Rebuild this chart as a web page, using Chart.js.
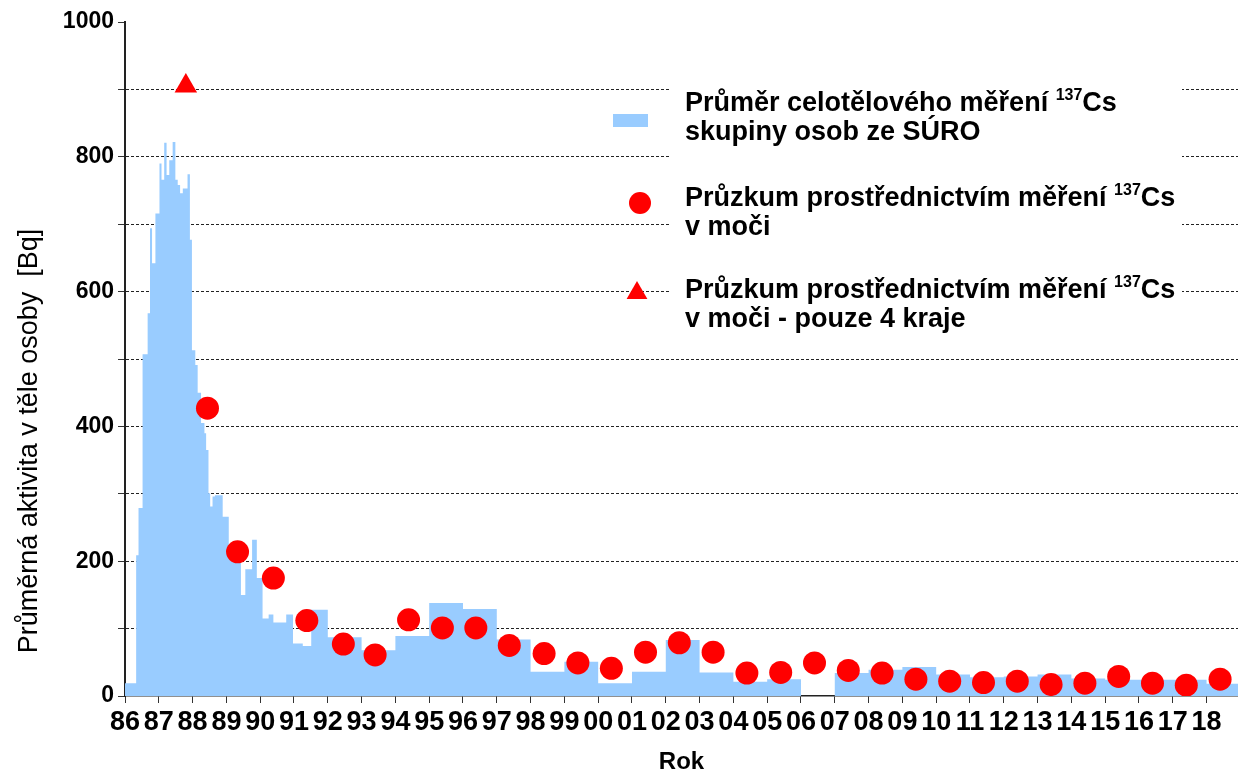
<!DOCTYPE html>
<html lang="cs">
<head>
  <meta charset="UTF-8" />
  <title>Průměrná aktivita 137Cs v těle osoby</title>
  <style>
    html, body { margin: 0; padding: 0; background: #fff; }
    #wrap { width: 1238px; height: 774px; }
  </style>
</head>
<body>
  <div id="wrap"><canvas id="chart" width="1238" height="774"></canvas></div>

  <script src="https://cdn.jsdelivr.net/npm/chart.js@4.4.0/dist/chart.umd.min.js"></script>
  <script>
    // osa x - roky
    const tickYears = [1986, 1987, 1988, 1989, 1990, 1991, 1992, 1993, 1994, 1995, 1996,
      1997, 1998, 1999, 2000, 2001, 2002, 2003, 2004, 2005, 2006, 2007, 2008, 2009, 2010,
      2011, 2012, 2013, 2014, 2015, 2016, 2017, 2018];
    const tickLabels = ['86', '87', '88', '89', '90', '91', '92', '93', '94', '95', '96',
      '97', '98', '99', '00', '01', '02', '03', '04', '05', '06', '07', '08', '09', '10',
      '11', '12', '13', '14', '15', '16', '17', '18'];

    // celotělové měření SÚRO (začátek intervalu, hodnota v Bq)
    const wbYears = [1986.00, 1986.33, 1986.40, 1986.52, 1986.67, 1986.74, 1986.80, 1986.90,
      1987.02, 1987.08, 1987.16, 1987.23, 1987.31, 1987.41, 1987.49, 1987.56, 1987.63, 1987.71,
      1987.85, 1987.92, 1987.98, 1988.08, 1988.15, 1988.25, 1988.35, 1988.40, 1988.47, 1988.52,
      1988.59, 1988.66, 1988.89, 1989.07, 1989.43, 1989.56, 1989.76, 1989.90, 1990.07, 1990.25,
      1990.39, 1990.77, 1990.97, 1991.26, 1991.51,
      1992, 1993, 1994, 1995, 1996, 1997, 1998, 1999, 2000, 2001, 2002, 2003, 2004, 2005,
      2006, 2007, 2008, 2009, 2010, 2011, 2012, 2013, 2014, 2015, 2016, 2017, 2018, 2018.93];
    const wbValues = [19, 209, 279, 507, 568, 694, 642, 716,
      790, 766, 821, 773, 795, 822, 766, 758, 746, 753,
      774, 677, 513, 491, 450, 405, 390, 365, 301, 281,
      296, 298, 266, 205, 150, 188, 232, 175, 115, 121,
      109, 121, 78, 74, 128,
      87, 68, 89, 138, 129, 84, 36, 51, 19, 36, 83, 35, 21, 25,
      0, 34, 39, 43, 32, 28, 29, 32, 26, 24, 24, 24, 18, 18];

    // průzkum - 137Cs v moči
    const urineYears = [1988.44, 1989.33, 1990.39, 1991.38, 1992.46, 1993.40, 1994.39, 1995.39,
      1996.38, 1997.37, 1998.40, 1999.40, 2000.39, 2001.40, 2002.40, 2003.40, 2004.40, 2005.40,
      2006.40, 2007.40, 2008.40, 2009.40, 2010.40, 2011.40, 2012.40, 2013.40, 2014.40, 2015.40,
      2016.40, 2017.40, 2018.40];
    const urineValues = [427, 214, 175, 112, 77, 61, 113, 101,
      101, 75, 63, 49, 41, 65, 79, 65, 34, 35,
      49, 38, 34, 25, 22, 20, 22, 17, 19, 29,
      19, 16, 25];

    // průzkum - jen 4 kraje
    const regionYears = [1987.80];
    const regionValues = [905];

    const legendLines = [
      ['Průměr celotělového měření ', '137', 'Cs'],
      ['skupiny osob ze SÚRO'],
      ['Průzkum prostřednictvím měření ', '137', 'Cs'],
      ['v moči'],
      ['Průzkum prostřednictvím měření ', '137', 'Cs'],
      ['v moči - pouze 4 kraje']
    ];
    const yTitle = 'Průměrná aktivita v těle osoby  [Bq]';

    const BLUE = '#99CCFF';
    const RED = '#FF0000';
    const FONT = '"Liberation Sans", Arial, sans-serif';

    const toPoints = (xs, ys) => xs.map((x, i) => ({ x: x, y: ys[i] }));

    // legenda uvnitř grafu (jako v Excelu)
    const boxLegend = {
      id: 'boxLegend',
      afterDatasetsDraw(chart) {
        const ctx = chart.ctx;
        ctx.save();
        ctx.fillStyle = '#fff';
        ctx.fillRect(670, 80, 512, 266);

        // značky
        ctx.fillStyle = BLUE;
        ctx.fillRect(613, 114, 35, 13);
        ctx.fillStyle = RED;
        ctx.beginPath();
        ctx.arc(640, 203, 11, 0, Math.PI * 2);
        ctx.fill();
        const r = 12, cx = 637, cy = 293;
        ctx.beginPath();
        ctx.moveTo(cx, cy - r);
        ctx.lineTo(cx + r * Math.sin(2 * Math.PI / 3), cy + r / 2);
        ctx.lineTo(cx - r * Math.sin(2 * Math.PI / 3), cy + r / 2);
        ctx.closePath();
        ctx.fill();

        // texty
        const rows = [104, 133, 199, 228, 291, 320];
        ctx.fillStyle = '#000';
        ctx.textBaseline = 'middle';
        legendLines.forEach((parts, i) => {
          let x = 685;
          parts.forEach((p, j) => {
            const sup = parts.length === 3 && j === 1;
            ctx.font = sup ? 'bold 16px ' + FONT : 'bold 27px ' + FONT;
            ctx.fillText(p, x, sup ? rows[i] - 8 : rows[i]);
            x += ctx.measureText(p).width;
          });
        });
        ctx.restore();
      },
      afterDraw(chart) {
        const ctx = chart.ctx;
        ctx.save();
        ctx.translate(30, 441);
        ctx.rotate(-Math.PI / 2);
        ctx.font = '27px ' + FONT;
        ctx.fillStyle = '#000';
        ctx.textAlign = 'center';
        ctx.textBaseline = 'middle';
        ctx.fillText(yTitle, 0, 0);
        ctx.restore();
      }
    };

    new Chart(document.getElementById('chart'), {
      type: 'line',
      data: {
        datasets: [
          {
            label: 'Průzkum - 4 kraje',
            data: toPoints(regionYears, regionValues),
            showLine: false,
            pointStyle: 'triangle',
            pointRadius: 13,
            backgroundColor: RED,
            borderColor: RED,
            borderWidth: 0,
            order: 0
          },
          {
            label: 'Průzkum - moč',
            data: toPoints(urineYears, urineValues),
            showLine: false,
            pointStyle: 'circle',
            pointRadius: 11.5,
            backgroundColor: RED,
            borderColor: RED,
            borderWidth: 0,
            order: 1
          },
          {
            label: 'Celotělové měření SÚRO',
            data: toPoints(wbYears, wbValues),
            stepped: 'before',
            fill: 'origin',
            backgroundColor: BLUE,
            borderColor: 'rgba(0,0,0,0)',
            borderWidth: 1,
            pointRadius: 0,
            order: 2
          }
        ]
      },
      options: {
        responsive: false,
        devicePixelRatio: 1,
        animation: false,
        layout: { autoPadding: false, padding: { top: 22, right: 0, left: 0, bottom: 0 } },
        plugins: {
          legend: { display: false },
          tooltip: { enabled: false }
        },
        scales: {
          x: {
            type: 'linear',
            min: 1986,
            max: 2018.93,
            afterBuildTicks: s => { s.ticks = tickYears.map(v => ({ value: v })); },
            afterFit: s => { s.height = 78; s.paddingRight = 0; s.paddingLeft = 0; },
            ticks: {
              autoSkip: false,
              maxRotation: 0,
              padding: 3,
              color: '#000',
              font: { family: FONT, size: 27, weight: 'bold' },
              callback: (v) => tickLabels[tickYears.indexOf(v)]
            },
            grid: { drawOnChartArea: false, drawTicks: true, tickLength: 7, color: '#333' },
            border: { color: '#222', width: 1.5 },
            title: {
              display: true,
              text: 'Rok',
              color: '#000',
              padding: 0,
              font: { family: FONT, size: 24, weight: 'bold', lineHeight: 1 }
            }
          },
          y: {
            min: 0,
            max: 1000,
            afterFit: s => { s.width = 125; },
            ticks: {
              stepSize: 100,
              padding: 4,
              color: '#000',
              font: { family: FONT, size: 23, weight: 'bold' },
              callback: (v) => (v % 200 === 0 ? v : '')
            },
            grid: {
              color: (c) => (c.tick && (c.tick.value === 0 || c.tick.value === 1000) ? 'rgba(0,0,0,0)' : '#222'),
              tickColor: '#333',
              tickLength: 7,
              lineWidth: 1
            },
            border: { color: '#222', width: 2, dash: [3, 2] }
          }
        }
      },
      plugins: [boxLegend]
    });
  </script>
</body>
</html>
